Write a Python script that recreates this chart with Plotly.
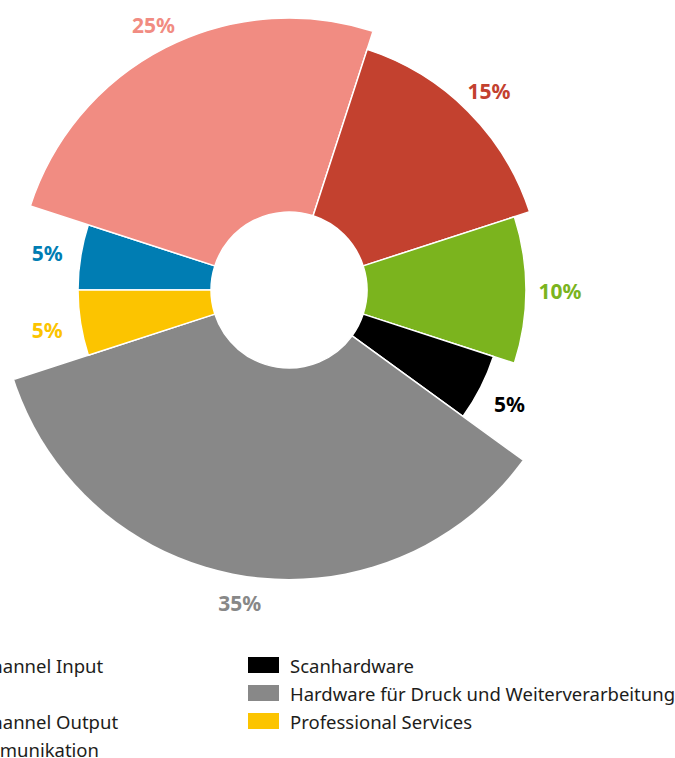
import math
import plotly.graph_objects as go

# ---- data ----
categories = [
    "Multichannel Input",
    "ECM",
    "Multichannel Output",
    "IT-Kommunikation",
    "Scanhardware",
    "Hardware für Druck und Weiterverarbeitung",
    "Professional Services",
]
shares = [5, 25, 15, 10, 5, 35, 5]                     # percent -> slice angle
radius_values = [211, 272, 253, 237, 215, 293, 211]     # outer radius (radial units)
label_texts = ["5%", "25%", "15%", "10%", "5%", "35%", "5%"]
colors = ["#007DB3", "#F18C82", "#C3412F", "#7BB41E", "#000000", "#888888", "#FCC400"]

INNER = 78          # hole radius (radial units)
W, H = 675, 758
CX, CY = 289, 290   # pixel centre of the chart
RMAX = 289          # radial range max == pixels of polar radius
FONT = "Noto Sans"

# angular geometry from the shares (theta 0 at west, clockwise)
widths = [s * 360 / sum(shares) for s in shares]
centers = []
acc = 0
for w in widths:
    centers.append(acc + w / 2)
    acc += w

fig = go.Figure()

fig.add_trace(go.Barpolar(
    theta=centers,
    width=widths,
    r=[rv - INNER for rv in radius_values],
    base=[INNER] * len(shares),
    marker=dict(color=colors, line=dict(color="white", width=1.5)),
    showlegend=False,
    hoverinfo="skip",
))

# percentage labels just outside each slice (cartesian overlay, 1 unit = 1 px,
# origin at the chart centre, so they may extend past the polar radius)
label_x, label_y = [], []
for rv, c in zip(radius_values, centers):
    ang = math.radians(180 - c)
    rr = rv + 20 + 14 * abs(math.cos(ang))
    label_x.append(rr * math.cos(ang))
    label_y.append(rr * math.sin(ang) - 4)

fig.add_trace(go.Scatter(
    x=label_x, y=label_y,
    mode="text",
    text=[f"<b>{t}</b>" for t in label_texts],
    textfont=dict(family=FONT, size=21, color=colors),
    textposition="middle center",
    cliponaxis=False,
    showlegend=False,
    hoverinfo="skip",
))

fig.update_layout(
    width=W, height=H,
    margin=dict(l=0, r=0, t=0, b=0, autoexpand=False),
    paper_bgcolor="white",
    plot_bgcolor="rgba(0,0,0,0)",
    showlegend=False,
    font=dict(family=FONT, size=18, color="#1d1d1b"),
    xaxis=dict(range=[-CX, W - CX], visible=False, fixedrange=True),
    yaxis=dict(range=[-(H - CY), CY], visible=False, fixedrange=True),
    polar=dict(
        domain=dict(x=[(CX - RMAX) / W, (CX + RMAX) / W],
                    y=[(H - CY - RMAX) / H, (H - CY + RMAX) / H]),
        bgcolor="rgba(0,0,0,0)",
        angularaxis=dict(rotation=180, direction="clockwise", visible=False,
                         showgrid=False, showline=False, showticklabels=False, ticks=""),
        radialaxis=dict(range=[0, RMAX], visible=False, showgrid=False,
                        showline=False, showticklabels=False, ticks=""),
    ),
)

# legend in two columns (4 + 3); the left column runs off the page edge
shapes = []
annotations = []
for i, (name, col) in enumerate(zip(categories, colors)):
    c = 0 if i < 4 else 1
    row = i if i < 4 else i - 4
    sw_x0 = -104 + c * 352
    yc = 665 + row * 28
    shapes.append(dict(type="rect", xref="paper", yref="paper",
                       x0=sw_x0 / W, x1=(sw_x0 + 31) / W,
                       y0=(H - yc - 8) / H, y1=(H - yc + 8) / H,
                       fillcolor=col, line=dict(width=0)))
    annotations.append(dict(text=name, xref="paper", yref="paper",
                            x=(sw_x0 + 40) / W, y=(H - yc) / H,
                            xanchor="left", yanchor="middle", showarrow=False,
                            font=dict(family=FONT, size=18.5, color="#1d1d1b")))
fig.update_layout(shapes=shapes, annotations=annotations)

fig.write_html("out.html", config={"displayModeBar": False},
               post_script="document.body.style.margin='0';")
